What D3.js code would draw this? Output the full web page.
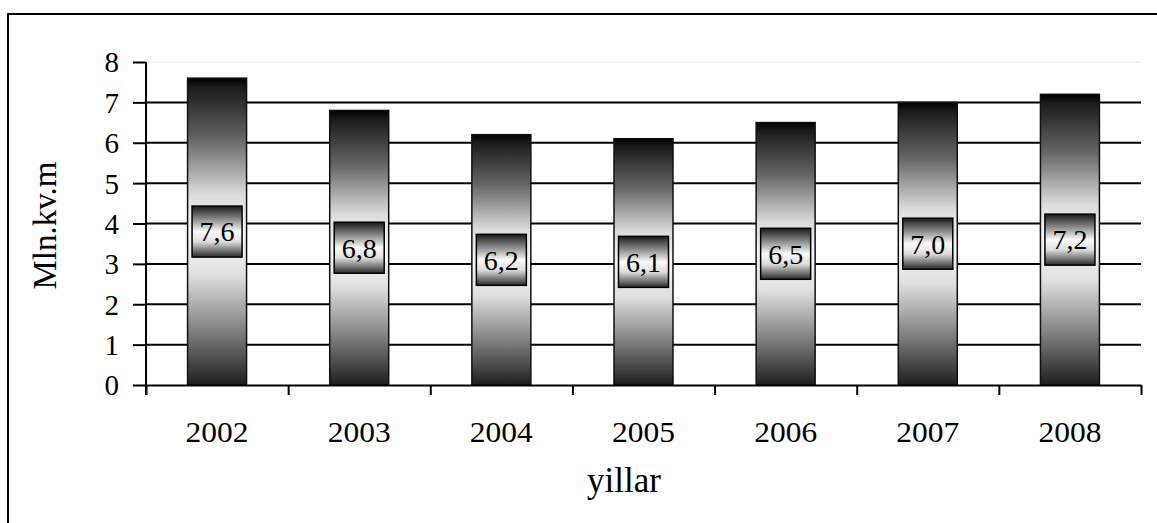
<!DOCTYPE html>
<html>
<head>
<meta charset="utf-8">
<script src="https://cdn.jsdelivr.net/npm/d3@7"></script>
<style>
  html, body { margin: 0; padding: 0; background: #fff; }
  svg { display: block; }
  text { font-family: "Liberation Serif", "Times New Roman", serif; fill: #000; }
</style>
</head>
<body>
<svg id="chart" width="1157" height="523"></svg>
<script>
const years = ["2002", "2003", "2004", "2005", "2006", "2007", "2008"];
const values = [7.6, 6.8, 6.2, 6.1, 6.5, 7.0, 7.2];
const valueLabels = ["7,6", "6,8", "6,2", "6,1", "6,5", "7,0", "7,2"];
const yTicks = [0, 1, 2, 3, 4, 5, 6, 7, 8];
const yTitle = "Mln.kv.m";
const xTitle = "yillar";

(function () {
const svg = d3.select("#chart");
const pL = 146, pR = 1141, pT = 62, pB = 385;

// outer frame (only left and top edges visible)
svg.append("rect").attr("x", 8).attr("y", 14).attr("width", 1170).attr("height", 540)
  .attr("fill", "none").attr("stroke", "#000").attr("stroke-width", 2);

const defs = svg.append("defs");
const gBar = defs.append("linearGradient").attr("id", "barGrad")
  .attr("x1", 0).attr("y1", 0).attr("x2", 0).attr("y2", 1);
[[0, "#000"], [0.03, "#1a1a1a"], [0.2, "#666"], [0.38, "#dcdcdc"], [0.5, "#f6f6f6"], [0.64, "#e0e0e0"], [0.84, "#777"], [1, "#1e1e1e"]]
  .forEach(([o, c]) => gBar.append("stop").attr("offset", o).attr("stop-color", c));
const gBox = defs.append("linearGradient").attr("id", "boxGrad")
  .attr("x1", 0).attr("y1", 0).attr("x2", 0).attr("y2", 1);
[[0, "#1a1a1a"], [0.25, "#888"], [0.5, "#fafafa"], [0.7, "#dddddd"], [1, "#2a2a2a"]]
  .forEach(([o, c]) => gBox.append("stop").attr("offset", o).attr("stop-color", c));

const x = d3.scaleBand().domain(years).range([pL, pR]).paddingInner(0.585).paddingOuter(0.2925);
const y = d3.scaleLinear().domain([0, 8]).range([pB, pT]);

// gridlines
svg.append("g").selectAll("line").data(yTicks.filter(d => d > 0)).join("line")
  .attr("x1", pL).attr("x2", pR)
  .attr("y1", d => y(d)).attr("y2", d => y(d))
  .attr("stroke", d => d === 8 ? "#eeeeee" : "#000")
  .attr("stroke-width", d => d === 8 ? 1.5 : 2);

// bars
svg.append("g").selectAll("rect").data(values).join("rect")
  .attr("x", (d, i) => x(years[i]))
  .attr("width", x.bandwidth())
  .attr("y", d => y(d))
  .attr("height", d => y(0) - y(d))
  .attr("fill", "url(#barGrad)")
  .attr("stroke", "#111").attr("stroke-width", 1.5);

// y axis
const yAxis = svg.append("g").attr("transform", `translate(${pL},0)`)
  .call(d3.axisLeft(y).tickValues(yTicks).tickSize(13).tickPadding(14).tickSizeOuter(0));
yAxis.attr("font-family", null);
yAxis.select(".domain").remove();
yAxis.selectAll("line").attr("stroke", "#000").attr("stroke-width", 2);
yAxis.selectAll("text").attr("font-size", 29).attr("dy", "0.34em");
svg.append("line").attr("x1", pL).attr("x2", pL).attr("y1", pT).attr("y2", pB + 10)
  .attr("stroke", "#000").attr("stroke-width", 2);

// x axis: boundary ticks
const xb = d3.scaleLinear().domain([0, years.length]).range([pL, pR]);
const xTickG = svg.append("g").attr("transform", `translate(0,${pB})`)
  .call(d3.axisBottom(xb).ticks(years.length).tickFormat("").tickSize(10).tickSizeOuter(0));
xTickG.select(".domain").attr("stroke", "#000").attr("stroke-width", 2);
xTickG.selectAll("line").attr("stroke", "#000").attr("stroke-width", 2);

// x axis labels
const xLab = svg.append("g").attr("transform", `translate(0,${pB})`)
  .call(d3.axisBottom(x).tickSize(0).tickPadding(36));
xLab.attr("font-family", null);
xLab.select(".domain").remove();
xLab.selectAll("text").attr("font-size", 30).attr("transform", "scale(1.05,1)");

// value label boxes
const lab = svg.append("g").selectAll("g").data(values).join("g")
  .attr("transform", (d, i) => `translate(${x(years[i]) + x.bandwidth() / 2},${y(d / 2)})`);
lab.append("rect").attr("x", -25).attr("y", -25.5).attr("width", 50).attr("height", 51)
  .attr("fill", "url(#boxGrad)").attr("stroke", "#000").attr("stroke-width", 1.5);
lab.append("text").attr("text-anchor", "middle").attr("dy", "0.35em").attr("font-size", 28)
  .text((d, i) => valueLabels[i]);

// titles
svg.append("text").attr("transform", `translate(56,${(pT + pB) / 2 + 2}) rotate(-90)`)
  .attr("text-anchor", "middle").attr("font-size", 33).text(yTitle);
svg.append("text").attr("x", 624).attr("y", 492)
  .attr("text-anchor", "middle").attr("font-size", 35).text(xTitle);
})();
</script>
</body>
</html>
